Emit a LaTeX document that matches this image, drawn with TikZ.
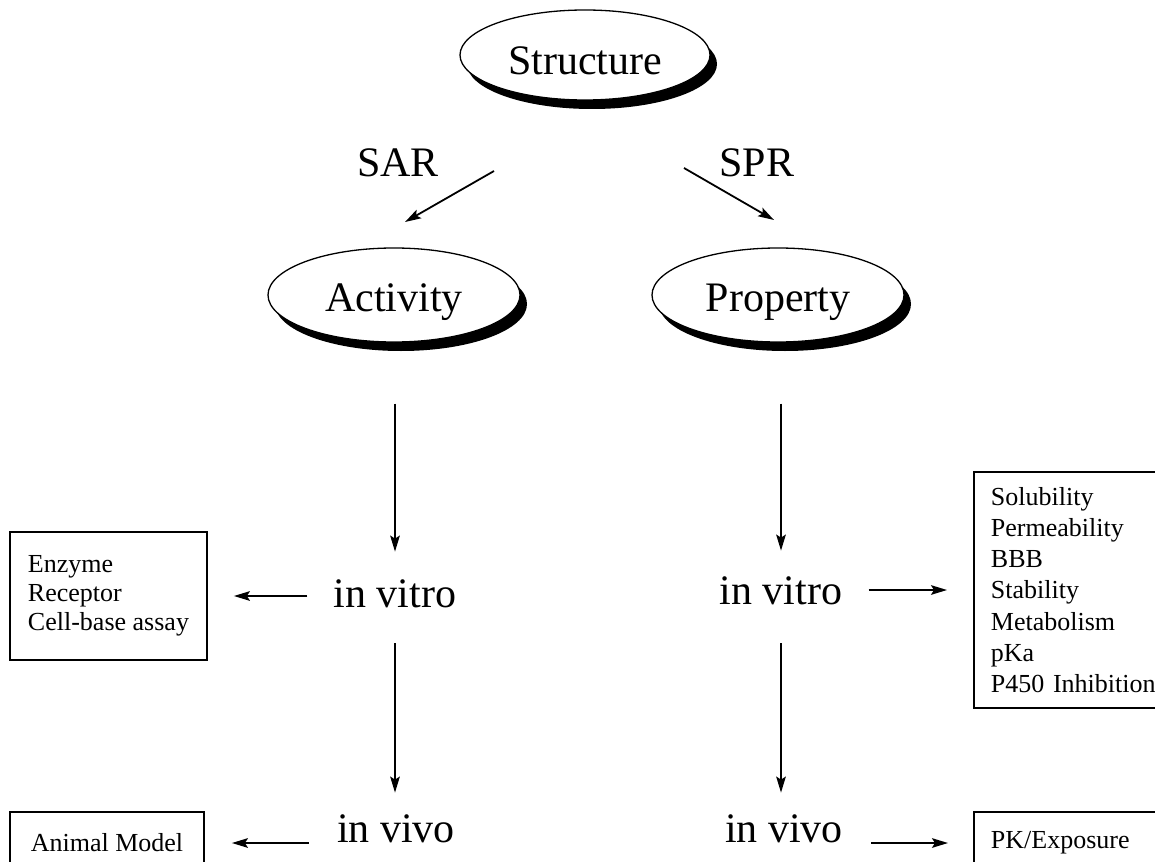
\documentclass[tikz,border=0pt]{standalone}
\usepackage{fontspec}
\setmainfont{Liberation Serif}
\usetikzlibrary{arrows.meta,shapes.geometric,shadows}
\begin{document}
\begin{tikzpicture}[x=0.5pt,y=-0.5pt,
  big/.style={font=\fontsize{21}{25}\selectfont},
  small/.style={font=\fontsize{13}{14.5}\selectfont},
  oval/.style={ellipse, draw, line width=0.65pt, fill=white, big, inner sep=0pt,
    text height=20pt, text depth=4pt,
    drop shadow={shadow xshift=3.5pt, shadow yshift=-4.5pt, fill=black, opacity=1}},
  lbl/.style={big, inner sep=0pt, text height=14pt, text depth=0pt},
  arr/.style={-{Stealth[length=8pt,width=4.8pt,inset=1.5pt]}, line width=0.9pt},
  box/.style={draw, line width=0.9pt, small, inner ysep=0pt},
]
\useasboundingbox (0,0) rectangle (1155,861);
\clip (0,0) rectangle (1155,861);

% ovals
\node[oval, minimum width=125pt, minimum height=45pt, text height=22pt, text depth=2pt]
  (str) at (585,55) {Structure};
\node[oval, minimum width=126pt, minimum height=47pt] (act) at (394,295) {Activity};
\node[oval, minimum width=126pt, minimum height=47pt] (prop) at (778,295) {Property};

% relation labels
\node[big, inner sep=0pt] (sar) at (398,163) {SAR};
\node[big, inner sep=0pt] (spr) at (757,163) {SPR};
\coordinate (sarA) at (494,171);
\coordinate (sarB) at (405,222);
\coordinate (sprA) at (684,168);
\coordinate (sprB) at (774,220);
\draw[arr] (sarA) -- (sarB);
\draw[arr] (sprA) -- (sprB);

% stage labels
\node[lbl] (vitroL) at (395,593) {in vitro};
\node[lbl] (vivoL) at (396,828) {in vivo};
\node[lbl] (vitroR) at (781,590) {in vitro};
\node[lbl] (vivoR) at (784,828) {in vivo};

% boxes
\node[box, minimum width=98.5pt, minimum height=64pt, align=left]
  (boxL) at (108.5,596) {Enzyme\\Receptor\\Cell-base assay};
\node[box, text width=95pt, inner xsep=8.5pt, minimum height=118pt, align=left, anchor=west,
  font=\fontsize{13}{15.6}\selectfont]
  (boxR) at (973,590) {Solubility\\Permeability\\BBB\\Stability\\Metabolism\\pKa\\P450 Inhibition};
\node[box, minimum width=97pt, minimum height=31pt, align=center]
  (boxA) at (107,843) {Animal Model};
\node[box, text width=95pt, inner xsep=8.5pt, minimum height=31pt, align=left, anchor=west]
  (boxP) at (973,843) {PK/Exposure};

% vertical arrows
\draw[arr, shorten <=30.5pt, shorten >=13.5pt] (vitroL.north |- act.south) -- (vitroL.north);
\draw[arr, shorten <=18pt, shorten >=10.5pt] (vitroL.south) -- (vitroL.south |- vivoL.north);
\draw[arr, shorten <=30.5pt, shorten >=12.5pt] (vitroR.north |- prop.south) -- (vitroR.north);
\draw[arr, shorten <=19.5pt, shorten >=10.5pt] (vitroR.south) -- (vitroR.south |- vivoR.north);

% horizontal arrows
\draw[arr, shorten <=13pt, shorten >=13pt] (vitroL.west |- boxL.east) -- (boxL.east);
\draw[arr, shorten <=13pt, shorten >=13pt] (vitroR.east) -- (vitroR.east -| boxR.west);
\draw[arr, shorten <=14pt, shorten >=13.5pt] (vivoL.west |- boxA.east) -- (boxA.east);
\draw[arr, shorten <=14pt, shorten >=12.5pt] (vivoR.east |- boxP.west) -- (boxP.west);
\end{tikzpicture}
\end{document}
